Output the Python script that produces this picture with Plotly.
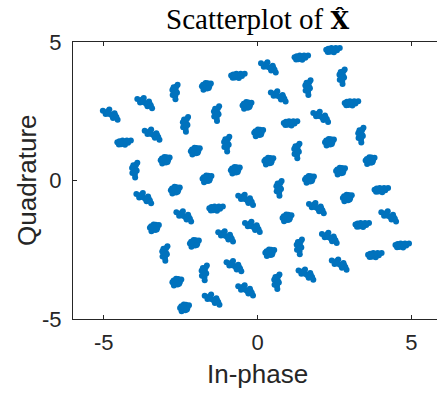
import numpy as np
import plotly.graph_objects as go

# Cluster centres, row by row along the rotated grid
center_x = [
    -4.77, -3.65, -2.70, -1.69, -0.69, 0.37, 1.37, 2.40,
    -4.39, -3.41, -2.36, -1.35, -0.37, 0.69, 1.62, 2.73,
    -4.01, -3.03, -2.05, -1.02, 0.01, 1.02, 2.07, 3.00,
    -3.68, -2.70, -1.67, -0.75, 0.34, 1.26, 2.31, 3.34,
    -3.38, -2.38, -1.40, -0.37, 0.68, 1.66, 2.67, 3.63,
    -3.03, -2.08, -1.02, -0.15, 0.93, 1.93, 2.89, 3.97,
    -2.65, -1.75, -0.75, 0.37, 1.34, 2.35, 3.35, 4.28,
    -2.40, -1.46, -0.37, 0.61, 1.59, 2.67, 3.76, 4.65,
]
center_y = [
    2.38, 2.80, 3.22, 3.40, 3.77, 4.09, 4.43, 4.70,
    1.36, 1.66, 2.05, 2.44, 2.71, 3.04, 3.38, 3.77,
    0.40, 0.73, 1.06, 1.34, 1.72, 2.06, 2.30, 2.78,
    -0.63, -0.35, 0.06, 0.37, 0.70, 1.09, 1.38, 1.66,
    -1.71, -1.29, -1.02, -0.69, -0.26, 0.04, 0.34, 0.72,
    -2.61, -2.27, -2.01, -1.67, -1.35, -0.99, -0.63, -0.35,
    -3.67, -3.31, -3.09, -2.61, -2.37, -2.07, -1.61, -1.29,
    -4.60, -4.30, -3.96, -3.63, -3.39, -3.03, -2.70, -2.35,
]

# Hand-estimated spread shapes of the clusters (offsets from centre)
shape_dx = [
    [0, 0.08, -0.08, 0.05, -0.05, 0.12, -0.12, 0.00, 0.07, -0.07, 0.17, 0.03, -0.02, 0.10],
    [-0.17, -0.10, -0.03, 0.05, 0.12, 0.18, 0.00, 0.08, -0.12, 0.27, -0.05, 0.14, 0.03, -0.07],
    [0.02, 0.00, 0.05, -0.04, 0.06, -0.07, 0.08, 0.10, -0.06, 0.00, 0.03, -0.02, 0.04, -0.03],
    [-0.14, -0.10, -0.17, 0.10, 0.14, 0.07, 0.00, -0.26, 0.22, -0.05, 0.12, 0.18, -0.08, 0.05],
]
shape_dy = [
    [0, 0.05, 0.06, -0.08, -0.07, 0.00, 0.00, 0.12, 0.11, -0.12, 0.10, -0.04, 0.04, -0.06],
    [0.02, 0.06, 0.00, -0.04, 0.04, 0.00, 0.08, -0.07, -0.06, 0.08, -0.05, 0.08, 0.04, 0.03],
    [-0.18, -0.10, 0.00, 0.08, 0.17, 0.05, -0.05, 0.24, -0.13, 0.12, -0.29, 0.03, -0.07, 0.15],
    [0.07, 0.12, 0.02, -0.07, -0.02, -0.12, 0.00, 0.14, -0.19, 0.18, 0.05, -0.09, 0.03, -0.05],
]
cluster_shape = [
    3, 3, 2, 0, 1, 3, 1, 1,
    1, 3, 2, 2, 0, 3, 2, 2,
    2, 0, 0, 2, 0, 1, 3, 1,
    3, 0, 0, 0, 0, 2, 0, 2,
    0, 3, 1, 3, 2, 0, 0, 0,
    2, 0, 3, 3, 0, 3, 0, 1,
    0, 2, 3, 0, 2, 3, 1, 3,
    0, 3, 3, 2, 3, 3, 1, 1,
]

xs, ys = [], []
for cx, cy, s in zip(center_x, center_y, cluster_shape):
    xs.extend(cx + np.array(shape_dx[s]))
    ys.extend(cy + np.array(shape_dy[s]))

x_ticks = [-5, 0, 5]
y_ticks = [-5, 0, 5]

axis_col = "#262626"
sans = "Liberation Sans, Arial, Helvetica, sans-serif"

W, H = 437, 394
L, T, B = 73, 42, 75
PW, PH = W - L, H - T - B

fig = go.Figure()
fig.add_trace(go.Scatter(
    x=xs, y=ys, mode="markers",
    marker=dict(color="#0072BD", size=6, line=dict(width=0)),
    showlegend=False, hoverinfo="skip",
))

fig.update_layout(
    width=W, height=H,
    margin=dict(l=L, r=0, t=T, b=B),
    paper_bgcolor="white", plot_bgcolor="white",
    title=dict(
        text="Scatterplot of <span style=\"font-family:'DejaVu Serif';font-size:24px\"><b>X̂</b></span>",
        font=dict(family="Liberation Serif, Times New Roman, serif", size=29, color="black"),
        x=0.507, xref="paper", xanchor="center",
        y=1 - 19 / H, yref="container", yanchor="middle",
    ),
    xaxis=dict(
        range=[-6, 5.83], tickvals=x_ticks, ticktext=[str(v) for v in x_ticks],
        ticks="inside", ticklen=4, tickcolor=axis_col, tickwidth=1,
        showline=True, linecolor=axis_col, linewidth=1, mirror="ticks",
        showgrid=False, zeroline=False,
        tickfont=dict(family=sans, size=22, color=axis_col),
        ticklabelstandoff=4,
    ),
    yaxis=dict(
        range=[-5, 5], tickvals=y_ticks, ticktext=[str(v) for v in y_ticks],
        ticks="inside", ticklen=4, tickcolor=axis_col, tickwidth=1,
        showline=True, linecolor=axis_col, linewidth=1, mirror=False,
        showgrid=False, zeroline=False,
        tickfont=dict(family=sans, size=22, color=axis_col),
        ticklabelstandoff=6,
    ),
    annotations=[
        dict(text="In-phase", x=(257 - L) / PW, xref="paper",
             y=-(374 - (T + PH)) / PH, yref="paper", showarrow=False,
             xanchor="center", yanchor="middle",
             font=dict(family=sans, size=26, color=axis_col)),
        dict(text="Quadrature", x=-(L - 27) / PW, xref="paper",
             y=(T + PH - 180) / PH, yref="paper", showarrow=False,
             xanchor="center", yanchor="middle", textangle=-90,
             font=dict(family=sans, size=26, color=axis_col)),
    ],
)

# remove the browser's default body margin so the figure sits at the page corner
fig.write_html(
    "out.html",
    config={"displayModeBar": False, "staticPlot": True},
    post_script="document.body.style.margin='0';document.body.style.overflow='hidden';",
)
